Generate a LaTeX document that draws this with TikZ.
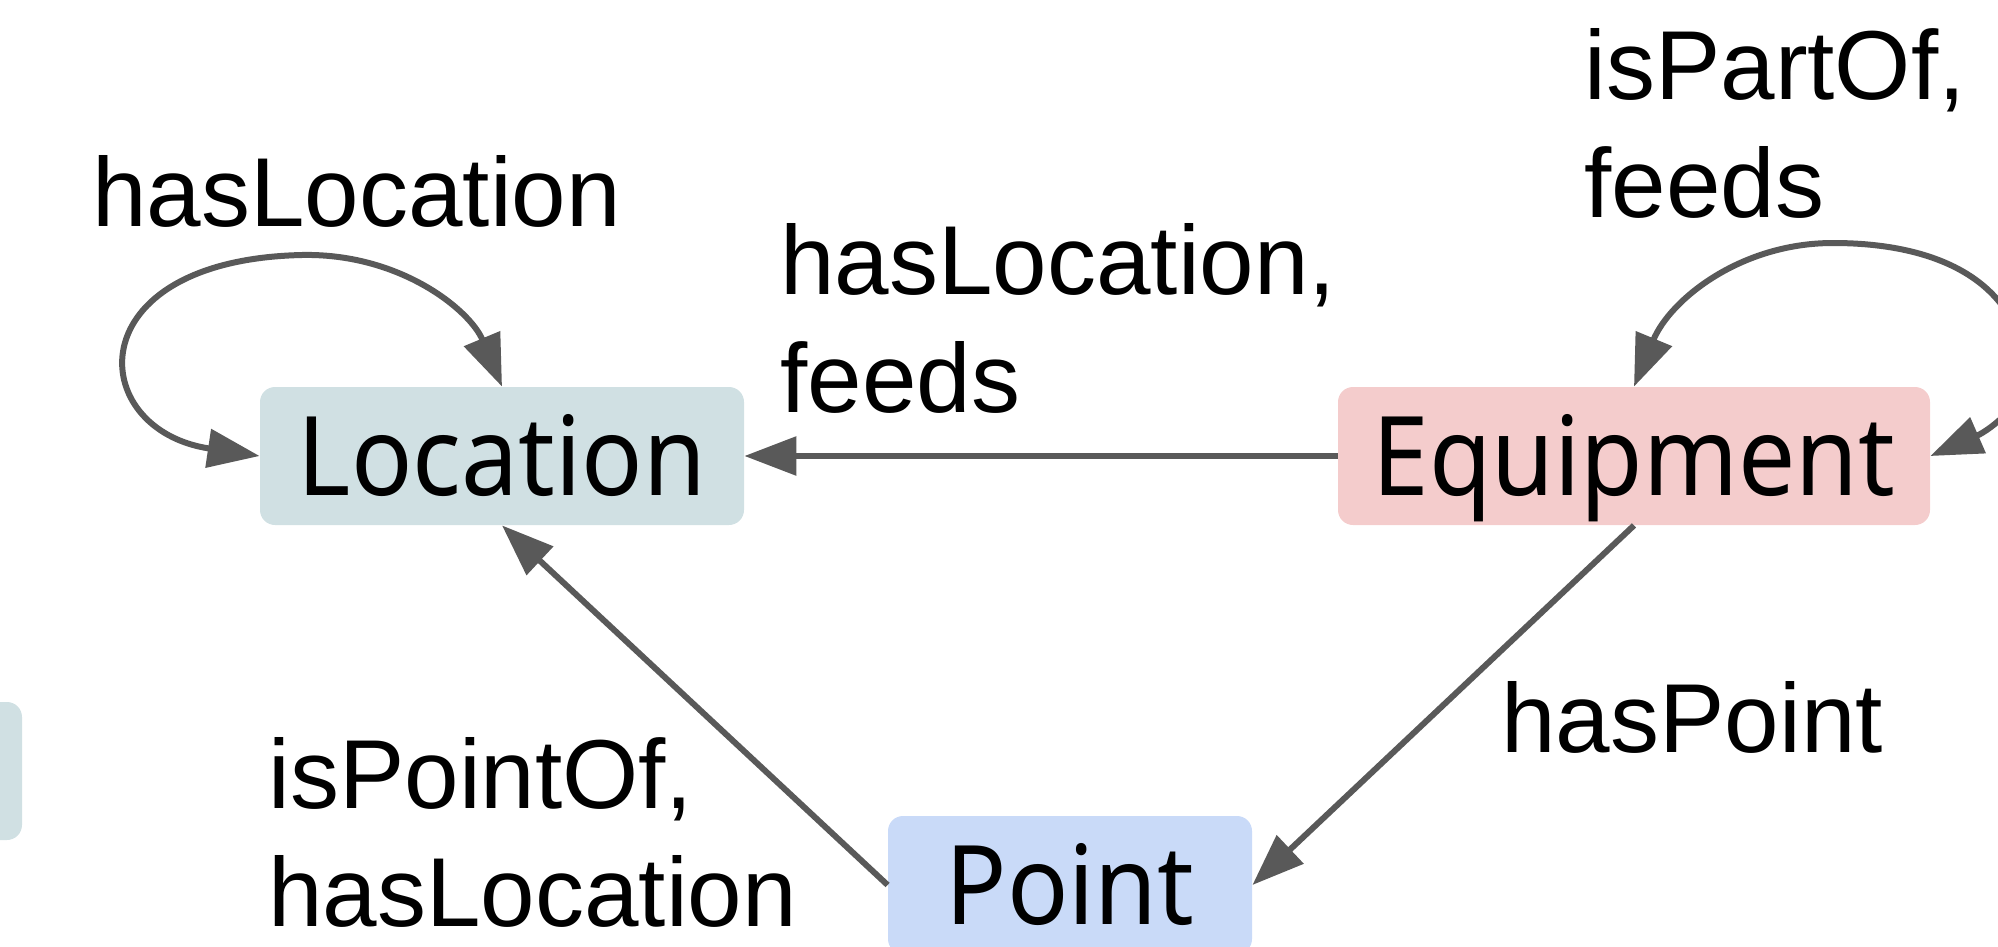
\documentclass[tikz,border=0pt]{standalone}
\usepackage{fontspec}
\setmainfont{Liberation Sans}
\newfontfamily\nodefont[FakeStretch=0.925]{Noto Sans}
\usetikzlibrary{arrows.meta}
\definecolor{locfill}{HTML}{D0E0E3}
\definecolor{eqfill}{HTML}{F4CCCC}
\definecolor{ptfill}{HTML}{C9DAF8}
\definecolor{edgecol}{HTML}{595959}
\tikzset{
  box/.style={rectangle, rounded corners=7.5pt, inner sep=0pt, minimum height=69pt,
    font=\nodefont\fontsize{55}{60}\selectfont, text height=39.3pt, text depth=0pt},
  lbl/.style={inner sep=0pt, align=left, font=\fontsize{49}{59}\selectfont},
  edge/.style={draw=edgecol, line width=3pt, -{Triangle[length=26pt,width=19pt]}},
  loopedge/.style={draw=edgecol, line width=3pt, {Triangle[length=26pt,width=19pt]}-{Triangle[length=26pt,width=19pt]}}
}
\begin{document}
\begin{tikzpicture}[x=0.5pt,y=-0.5pt]
\useasboundingbox (0,0) rectangle (1998,947);
\clip (0,0) rectangle (1998,947);
\node[box, fill=locfill, minimum width=36pt] (partial) at (-14,771) {};
\node[box, fill=locfill, minimum width=242pt] (Lo) at (502,456) {Location};
\node[box, fill=eqfill, minimum width=296pt] (Eq) at (1634,456) {Equipment};
\node[box, fill=ptfill, minimum width=182pt] (Pt) at (1070,885) {Point};
\path[edge] (Eq.west) -- (Lo.east);
\path[edge] (Eq.south) -- (Pt.east);
\path[edge] (Pt.west) -- (Lo.south);
\path[loopedge] (Lo.west) .. controls (85,430) and (75,260) .. (302,255)
  .. controls (400,253) and (470,310) .. (Lo.north);
\path[loopedge] (Eq.east) .. controls (1990,430) and (2030,400) .. (2025,370)
  .. controls (2020,290) and (1950,243) .. (1833,243)
  .. controls (1740,243) and (1670,300) .. (Eq.north);
\node[lbl, anchor=base west] (l1) at (92,227) {hasLocation};
\node[lbl, anchor=base west] (l2) at (780,412) {hasLocation,\\feeds};
\node[lbl, anchor=base west] (l3) at (1584,218) {isPartOf,\\feeds};
\node[lbl, anchor=base west] (l4) at (1501,752) {hasPoint};
\node[lbl, anchor=base west] (l5) at (268,926) {isPointOf,\\hasLocation};
\end{tikzpicture}
\end{document}
